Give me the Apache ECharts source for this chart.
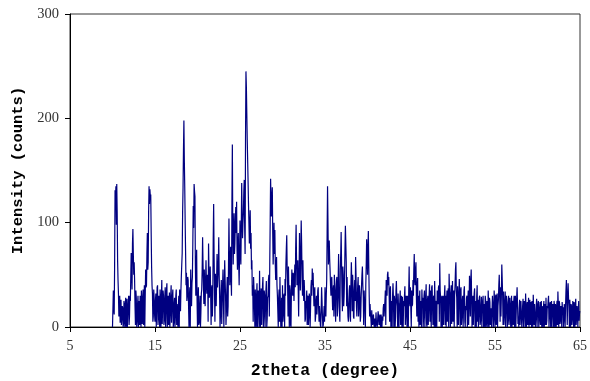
<!DOCTYPE html>
<html>
<head>
<meta charset="utf-8">
<script src="https://cdn.jsdelivr.net/npm/echarts@6/dist/echarts.min.js"></script>
<style>html,body{margin:0;padding:0;background:#fff}#c{width:590px;height:381px}</style>
</head>
<body>
<div id="c"></div>
<script>
// XRD scan: start angle and step (degrees 2theta)
const scanStart = 10.0;
const scanStep = 0.05;
// intensity (counts), one row per degree (20 steps)
const intensity = [
  0, 0, 35, 18, 12, 60, 131, 120, 135, 98, 137, 110, 64, 45, 32, 10, 21, 30, 4, 15,
  26, 2, 8, 20, 18, 0, 3, 25, 22, 0, 12, 28, 0, 10, 27, 0, 15, 22, 30, 2,
  10, 30, 25, 48, 71, 55, 36, 80, 94, 70, 50, 62, 45, 20, 2, 35, 28, 0, 5, 22,
  30, 0, 18, 25, 2, 30, 24, 0, 35, 15, 3, 28, 36, 2, 20, 40, 0, 30, 55, 38,
  40, 70, 90, 55, 62, 110, 135, 118, 132, 125, 127, 90, 58, 40, 32, 5, 10, 36, 28, 12,
  5, 25, 32, 0, 18, 38, 40, 2, 8, 30, 25, 0, 36, 20, 0, 28, 45, 3, 20, 35,
  30, 2, 6, 28, 38, 0, 15, 35, 42, 0, 22, 30, 2, 18, 33, 0, 12, 30, 40, 4,
  18, 30, 36, 0, 4, 22, 28, 0, 10, 30, 36, 2, 22, 8, 0, 20, 30, 0, 36, 25,
  15, 35, 49, 60, 71, 110, 134, 170, 198, 160, 134, 100, 71, 40, 52, 25, 30, 48, 45, 20,
  0, 30, 38, 0, 55, 35, 20, 42, 48, 80, 116, 95, 137, 130, 125, 60, 30, 50, 74, 25,
  0, 25, 38, 2, 4, 20, 30, 0, 14, 32, 36, 55, 86, 60, 40, 22, 55, 35, 20, 45,
  64, 40, 32, 50, 45, 5, 80, 55, 28, 40, 58, 30, 2, 35, 40, 10, 30, 85, 118, 70,
  35, 5, 51, 40, 20, 45, 70, 38, 48, 60, 86, 50, 30, 0, 10, 32, 45, 3, 22, 40,
  55, 25, 0, 38, 64, 45, 30, 2, 15, 35, 48, 10, 20, 60, 104, 70, 40, 55, 77, 45,
  30, 120, 175, 95, 60, 85, 109, 70, 80, 100, 115, 90, 120, 75, 55, 80, 90, 60, 40, 70,
  102, 75, 60, 95, 138, 110, 85, 100, 109, 130, 141, 95, 70, 180, 245, 230, 205, 180, 160, 140,
  118, 100, 80, 95, 112, 75, 90, 55, 64, 30, 40, 5, 48, 35, 20, 0, 36, 15, 0, 30,
  42, 0, 15, 35, 30, 0, 54, 25, 0, 30, 37, 2, 22, 40, 48, 0, 12, 35, 30, 0,
  20, 35, 44, 0, 8, 28, 30, 45, 50, 10, 60, 100, 142, 120, 106, 125, 134, 90, 60, 80,
  100, 70, 93, 60, 45, 55, 67, 40, 30, 15, 0, 28, 36, 5, 48, 22, 0, 15, 28, 0,
  40, 5, 12, 30, 32, 0, 46, 30, 60, 75, 88, 55, 40, 10, 58, 35, 0, 40, 35, 2,
  0, 35, 55, 40, 30, 52, 50, 25, 45, 60, 38, 75, 98, 65, 40, 55, 64, 35, 10, 50,
  90, 55, 35, 70, 102, 80, 48, 30, 64, 40, 25, 45, 32, 5, 8, 25, 20, 35, 2, 28,
  30, 2, 10, 32, 28, 0, 18, 38, 45, 30, 56, 40, 52, 35, 20, 30, 38, 5, 10, 25,
  30, 12, 22, 35, 38, 18, 5, 20, 12, 2, 0, 15, 38, 25, 10, 0, 2, 12, 20, 5,
  38, 20, 10, 30, 45, 90, 135, 100, 60, 70, 83, 65, 54, 40, 30, 45, 48, 30, 16, 35,
  40, 10, 50, 38, 22, 5, 35, 45, 48, 10, 20, 45, 70, 30, 15, 5, 55, 70, 91, 60,
  30, 15, 58, 50, 20, 30, 48, 75, 97, 80, 62, 20, 48, 25, 10, 5, 22, 35, 40, 10,
  5, 40, 62, 45, 15, 50, 38, 10, 8, 35, 45, 25, 67, 50, 20, 10, 28, 40, 48, 10,
  20, 40, 32, 5, 10, 28, 40, 50, 58, 40, 30, 2, 35, 25, 20, 0, 40, 60, 84, 70,
  50, 75, 92, 60, 30, 10, 22, 12, 8, 0, 16, 5, 2, 10, 12, 3, 0, 8, 5, 0,
  14, 5, 2, 0, 8, 15, 10, 2, 4, 12, 2, 0, 12, 5, 0, 10, 6, 18, 22, 10,
  10, 25, 35, 2, 45, 38, 30, 50, 53, 40, 48, 30, 5, 35, 39, 0, 25, 12, 0, 30,
  42, 28, 0, 30, 26, 0, 10, 35, 44, 25, 20, 0, 32, 18, 0, 20, 24, 35, 2, 25,
  30, 0, 29, 18, 0, 25, 20, 30, 39, 2, 12, 30, 25, 0, 30, 15, 0, 35, 58, 25,
  20, 38, 16, 0, 35, 20, 22, 45, 30, 55, 70, 45, 40, 55, 62, 30, 10, 40, 47, 5,
  30, 0, 20, 35, 2, 20, 25, 0, 36, 22, 28, 0, 10, 30, 35, 0, 20, 30, 41, 3,
  0, 25, 30, 2, 18, 30, 41, 5, 35, 12, 0, 38, 40, 20, 2, 28, 30, 0, 44, 25,
  0, 20, 25, 0, 35, 25, 22, 38, 40, 5, 61, 35, 28, 0, 20, 30, 0, 20, 30, 2,
  20, 30, 40, 2, 30, 0, 25, 35, 5, 28, 37, 0, 51, 35, 30, 0, 30, 40, 3, 25,
  44, 5, 20, 35, 0, 30, 40, 55, 62, 35, 28, 0, 39, 25, 2, 30, 46, 28, 0, 35,
  38, 2, 10, 25, 30, 0, 20, 35, 39, 5, 0, 20, 16, 28, 30, 0, 24, 35, 2, 20,
  49, 35, 10, 45, 55, 28, 0, 25, 30, 2, 20, 32, 37, 0, 8, 25, 0, 30, 40, 5,
  26, 0, 12, 28, 30, 2, 6, 20, 29, 0, 20, 25, 30, 0, 8, 22, 0, 30, 25, 0,
  3, 25, 22, 0, 35, 20, 0, 28, 24, 2, 5, 18, 0, 15, 30, 22, 0, 8, 35, 25,
  0, 28, 31, 2, 20, 32, 0, 20, 26, 40, 50, 30, 5, 38, 10, 30, 60, 45, 30, 2,
  34, 2, 10, 25, 34, 0, 20, 30, 24, 0, 6, 22, 30, 2, 12, 28, 28, 0, 20, 30,
  0, 22, 25, 2, 24, 30, 0, 18, 30, 0, 15, 28, 38, 22, 3, 10, 0, 18, 26, 2,
  2, 25, 24, 0, 8, 20, 27, 0, 14, 25, 20, 0, 32, 18, 0, 20, 24, 2, 18, 28,
  0, 20, 26, 2, 24, 18, 0, 25, 20, 0, 31, 18, 2, 22, 21, 0, 8, 20, 27, 0,
  14, 22, 25, 0, 6, 18, 24, 2, 18, 25, 0, 20, 20, 0, 19, 25, 0, 15, 22, 2,
  28, 2, 6, 20, 18, 25, 30, 0, 10, 22, 24, 0, 16, 25, 0, 15, 22, 18, 0, 25,
  20, 0, 22, 15, 0, 20, 25, 2, 34, 20, 0, 25, 22, 3, 6, 20, 18, 0, 24, 15,
  19, 0, 8, 22, 13, 0, 20, 35, 45, 25, 2, 30, 42, 28, 20, 0, 26, 15, 0, 22,
  20, 2, 8, 25, 18, 0, 24, 15, 0, 22, 27, 2, 10, 20, 20, 0, 18, 25, 6, 15,
  14
];
const xTicks = [5, 15, 25, 35, 45, 55, 65];
const yTicks = [0, 100, 200, 300];

const points = intensity.map((v, i) => [+(scanStart + i * scanStep).toFixed(2), v]);

const chart = echarts.init(document.getElementById('c'), null, {renderer: 'canvas'});
chart.setOption({
  animation: false,
  backgroundColor: '#fff',
  grid: {left: 70, right: 10, top: 14, bottom: 54, containLabel: false, outerBoundsMode: 'none',
         show: true, borderColor: '#333', borderWidth: 1, backgroundColor: 'transparent'},
  xAxis: {
    type: 'value', min: xTicks[0], max: xTicks[xTicks.length - 1], interval: 10,
    name: '2theta (degree)', nameLocation: 'middle', nameGap: 35,
    nameTextStyle: {fontFamily: 'Liberation Mono', fontWeight: 'bold', fontSize: 16.5, color: '#000'},
    axisLine: {show: true, lineStyle: {color: '#000', width: 1}},
    axisTick: {show: true, inside: false, length: 5, lineStyle: {color: '#000'}},
    axisLabel: {fontFamily: 'Liberation Serif', fontSize: 14, color: '#333', margin: 12},
    splitLine: {show: false}
  },
  yAxis: {
    type: 'value', min: yTicks[0], max: yTicks[yTicks.length - 1], interval: 100,
    name: 'Intensity (counts)', nameLocation: 'middle', nameGap: 42, nameRotate: 90,
    nameTextStyle: {fontFamily: 'Liberation Mono', fontWeight: 'bold', fontSize: 15.5, color: '#000'},
    axisLine: {show: true, lineStyle: {color: '#000', width: 1}},
    axisTick: {show: true, inside: false, length: 5, lineStyle: {color: '#000'}},
    axisLabel: {fontFamily: 'Liberation Serif', fontSize: 14.5, color: '#333', margin: 11},
    splitLine: {show: false}
  },
  series: [{
    type: 'line', data: points, showSymbol: false, symbol: 'none',
    lineStyle: {color: '#000080', width: 1.2}, clip: true
  }]
});
</script>
</body>
</html>
